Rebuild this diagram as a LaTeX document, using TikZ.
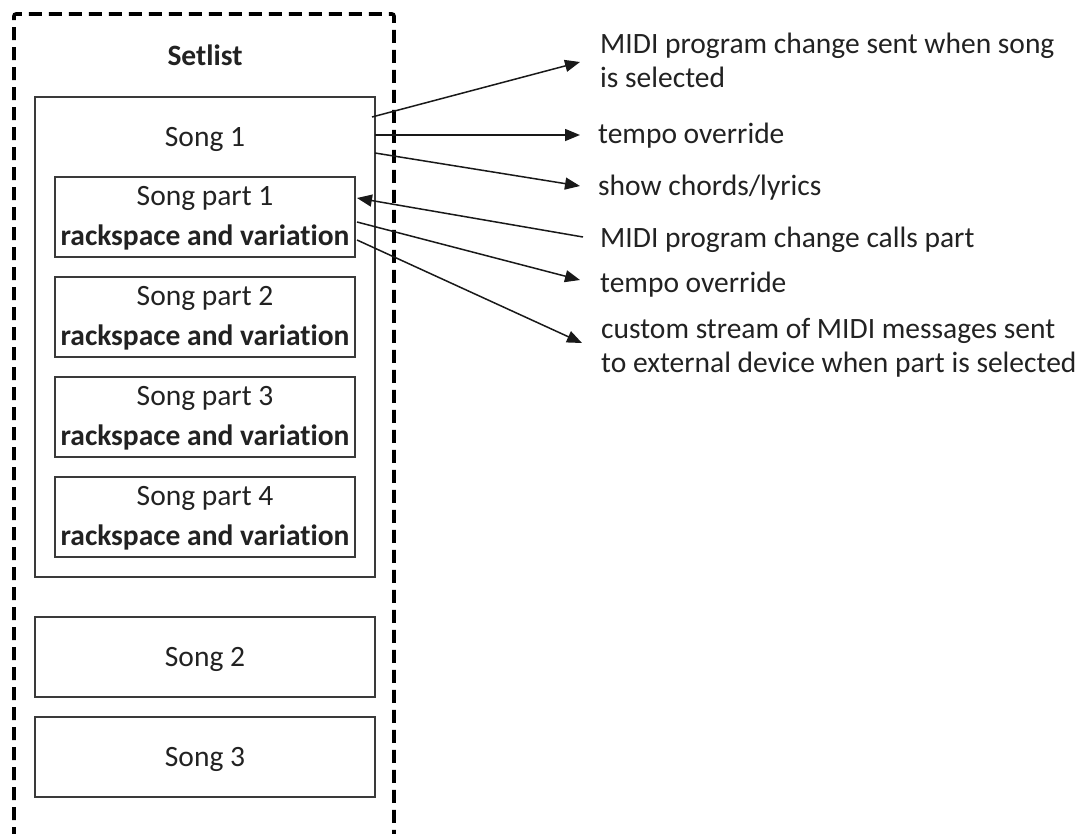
\documentclass[tikz,border=0pt]{standalone}
\usepackage{fontspec}
\setmainfont{Carlito}[Ligatures=NoCommon]
\usetikzlibrary{arrows.meta}
\definecolor{boxline}{HTML}{3A3A3A}
\definecolor{txt}{HTML}{222222}
\tikzset{
  box/.style={draw=boxline, line width=1.6pt, inner sep=0pt},
  lbl/.style={anchor=base, inner sep=0pt, text=txt, font=\fontsize{29.5}{34}\selectfont},
  rlbl/.style={anchor=base west, inner sep=0pt, text=txt, font=\fontsize{29.5}{34}\selectfont},
  arr/.style={draw=black!90, line width=1.5pt, -{Triangle[length=15pt,width=12pt]}},
  dashbox/.style={draw=black, line width=3.6pt, dash pattern=on 13pt off 7pt, rounded corners=2pt}
}
\begin{document}
\begin{tikzpicture}[x=1pt,y=-1pt]
\useasboundingbox[fill=white] (0,0) rectangle (1082,833);
\clip (0,0) rectangle (1082,833);
% setlist dashed frame
\draw[dashbox] (14,840) -- (14,14) -- (394,14) -- (394,840);
\node[lbl, font=\fontsize{29.5}{34}\selectfont\bfseries] (setlist) at (205,65) {Setlist};
% song 1
\node[box, minimum width=340pt, minimum height=480pt] (song1) at (205,337) {};
\node[lbl] (song1t) at (205,146) {Song 1};
% song parts
\foreach \k/\t in {1/177,2/277,3/377,4/477}{
  \node[box, minimum width=300pt, minimum height=80pt] (part\k) at (205,\t+40) {};
  \node[lbl] (part\k a) at (205,\t+28) {Song part \k};
  \node[lbl, font=\fontsize{29.5}{34}\selectfont\bfseries] (part\k b) at (205,\t+68) {rackspace and variation};
}
% song 2, 3
\node[box, minimum width=340pt, minimum height=80pt] (song2) at (205,657) {};
\node[lbl] (song2t) at (205,666) {Song 2};
\node[box, minimum width=340pt, minimum height=80pt] (song3) at (205,757) {};
\node[lbl] (song3t) at (205,766) {Song 3};
% right labels
\node[rlbl] (t1a) at (600,53) {MIDI program change sent when song};
\node[rlbl] (t1b) at (600,87) {is selected};
\node[rlbl] (t2) at (598,143) {tempo override};
\node[rlbl] (t3) at (598,195) {show chords/lyrics};
\node[rlbl] (t4) at (600,247) {MIDI program change calls part};
\node[rlbl] (t5) at (600,292) {tempo override};
\node[rlbl] (t6a) at (601,338) {custom stream of MIDI messages sent};
\node[rlbl] (t6b) at (601,372) {to external device when part is selected};
% connector ends
\coordinate (s1a) at (372,117);
\coordinate (s1b) at (375,135);
\coordinate (s1c) at (375,153);
\coordinate (p1in) at (357,198);
\coordinate (p1b) at (357,222);
\coordinate (p1c) at (357,240);
\coordinate (e1) at (580,62);
\coordinate (e2) at (580,135);
\coordinate (e3) at (580,186);
\coordinate (e4) at (583,237);
\coordinate (e5) at (580,280);
\coordinate (e6) at (582,343);
\draw[arr] (s1a) -- (e1);
\draw[arr] (s1b) -- (e2);
\draw[arr] (s1c) -- (e3);
\draw[arr] (e4) -- (p1in);
\draw[arr] (p1b) -- (e5);
\draw[arr] (p1c) -- (e6);
\end{tikzpicture}
\end{document}
